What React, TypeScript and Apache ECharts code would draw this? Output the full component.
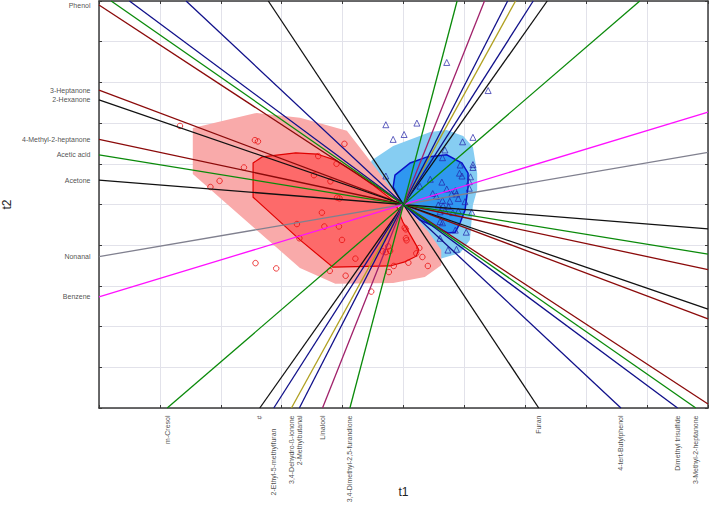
import React, { useEffect, useRef } from "react";
import * as echarts from "echarts";

// Variables whose loading line ends on the left border (x = -5): y where they hit it
const leftNames = ["Phenol", "3-Heptanone", "2-Hexanone", "4-Methyl-2-heptanone", "Acetic acid", "Acetone", "Nonanal", "Benzene"];
const leftY = [4.9, 2.81, 2.57, 1.6, 1.22, 0.6, -1.28, -2.27];

// Variables whose loading line ends on the bottom border (y = -5): x where they hit it
const bottomNames = [
  "m-Cresol", "#", "2-Ethyl-5-methylfuran", "3,4-Dehydro-ß-ionone", "2-Methylbutanal", "Linalool",
  "3,4-Dimethyl-2,5-furandione", "Furan", "4-tert-Butylphenol", "Dimethyl trisulfide", "3-Methyl-2-heptanone",
];
const bottomX = [-3.88, -2.36, -2.13, -1.84, -1.71, -1.33, -0.88, 2.22, 3.57, 4.5, 4.8];

// Scores, group 1 (red circles)
const redX = [-3.67, -2.44, -2.39, -0.97, -1.4, -1.1, -2.62, -1.47, -1.2, -3.02, -3.17, -1.09, -1.05, -1.34, -1.75, -1.3, -1.06, -1.71, -1.01, 0.02, 0.04, 0.04, 0.05, 0.26, 0.21, -0.25, -0.22, -0.29, -0.34, -0.79, 0.31, -2.43, -2.09, -1.21, -0.16, 0.08, 0.4, -0.95, -0.24, -0.53];
const redY = [1.93, 1.58, 1.55, 1.49, 1.19, 1.0, 0.91, 0.72, 0.57, 0.58, 0.43, 0.17, 0.15, -0.2, -0.48, -0.54, -0.54, -0.83, -0.87, -0.57, -0.61, -0.83, -0.88, -1.07, -1.2, -1.03, -1.14, -1.17, -1.15, -1.33, -1.29, -1.44, -1.57, -1.63, -1.51, -1.43, -1.51, -1.75, -1.66, -2.14];

// Scores, group 2 (blue triangles)
const blueX = [0.71, 1.39, -0.29, 0.22, -0.17, 0.01, 0.97, 1.14, 0.68, 0.64, 0.93, 1.14, 1.14, 0.92, 0.96, 1.1, -0.29, 0.27, 0.44, 0.63, 1.08, 1.08, 0.71, 0.85, 0.87, 0.79, 0.48, 0.54, 0.64, 0.76, 0.9, 1.01, 0.57, 0.65, 0.74, 0.6, 0.68, 0.81, 0.9, 1.12, 0.64, 0.6, 0.85, 1.03, 0.6, 0.73, 0.87];
const blueY = [3.49, 2.8, 1.96, 2.0, 1.6, 1.72, 1.54, 1.65, 1.34, 1.15, 0.97, 0.98, 0.91, 0.77, 0.7, 0.68, 0.7, 0.45, 0.62, 0.55, 0.56, 0.4, 0.38, 0.34, 0.26, 0.26, 0.27, 0.2, 0.1, 0.08, 0.15, 0.07, -0.01, -0.03, -0.05, -0.18, -0.15, -0.2, -0.16, -0.19, -0.45, -0.42, -0.63, -0.68, -0.83, -1.12, -1.1];

// Group regions (outer and inner)
const redOuter = [[-3.46, 1.88], [-2.41, 2.25], [-1.7, 2.13], [-0.93, 1.81], [-0.52, 1.02], [-0.06, 0.11], [0.14, -0.23], [0.4, -0.65], [0.62, -1.12], [0.62, -1.49], [0.35, -1.78], [-0.17, -1.93], [-1.12, -1.95], [-1.7, -1.56], [-3.46, 0.75]];
const redInner = [[-2.47, 1.02], [-2.32, 1.17], [-1.77, 1.27], [-1.42, 1.24], [-1.12, 1.09], [-0.8, 0.8], [-0.52, 0.5], [-0.14, 0.06], [-0.01, -0.43], [0.14, -0.82], [0.25, -1.11], [0.21, -1.27], [0.02, -1.41], [-0.22, -1.51], [-1.16, -1.54], [-1.7, -0.87], [-2.47, 0.18]];
const blueOuter = [[-0.52, 1.09], [-0.17, 1.44], [0.44, 1.78], [0.71, 1.83], [0.98, 1.68], [1.14, 1.41], [1.21, 0.77], [1.21, 0.36], [1.14, -0.01], [1.09, -0.87], [0.93, -1.19], [0.55, -1.36], [0.19, -1.12], [-0.3, -0.14], [-0.63, 0.72]];
const blueInner = [[-0.14, 0.72], [0.11, 1.02], [0.39, 1.17], [0.71, 1.22], [0.96, 1.02], [1.06, 0.77], [1.06, 0.43], [1.01, -0.14], [0.93, -0.45], [0.85, -0.68], [0.73, -0.7], [0.27, -0.38], [-0.01, -0.01], [-0.17, 0.43]];

const AX_MIN = -5;
const AX_MAX = 5;

// styles
const NAVY = "#10108a";
const DRED = "#8b0a0a";
const GREEN = "#0a8a0a";
const BLACK = "#111111";
const leftColors = [DRED, DRED, BLACK, DRED, GREEN, BLACK, "#80808f", "#ff10ff"];
const bottomColors = [GREEN, BLACK, NAVY, "#b0a020", NAVY, "#a0206a", GREEN, BLACK, NAVY, NAVY, GREEN];
const LABEL_FONT = "'Liberation Sans', Arial, sans-serif";

function polygonSeries(points: number[][], fill: string, stroke: string | null, lw: number) {
  return {
    type: "custom",
    silent: true,
    data: [[0, 0]],
    renderItem: (_params: any, api: any) => {
      const pts = points.map((p) => api.coord(p));
      return {
        type: "polygon",
        shape: { points: pts },
        style: { fill, stroke: stroke || "none", lineWidth: lw },
      };
    },
  };
}

export default function App() {
  const ref = useRef<HTMLDivElement>(null);
  useEffect(() => {
    if (!ref.current) return;
    const chart = echarts.init(ref.current, null, { renderer: "svg" });

    const axisCommon = {
      type: "value",
      min: AX_MIN,
      max: AX_MAX,
      interval: 1,
      axisLabel: { show: false },
      axisLine: { show: true, onZero: false, lineStyle: { color: "#3a3a3a", width: 1.5 } },
      axisTick: { show: true, inside: true, length: 3, lineStyle: { color: "#3a3a3a" } },
    };

    const lineSeries: any[] = [];
    leftNames.forEach((n, i) => {
      lineSeries.push({
        type: "line",
        name: n,
        silent: true,
        symbol: "none",
        data: [[AX_MIN, leftY[i]], [-AX_MIN, -leftY[i]]],
        lineStyle: { color: leftColors[i], width: 1.3 },
      });
    });
    bottomNames.forEach((n, i) => {
      lineSeries.push({
        type: "line",
        name: n,
        silent: true,
        symbol: "none",
        data: [[bottomX[i], AX_MIN], [-bottomX[i], -AX_MIN]],
        lineStyle: { color: bottomColors[i], width: 1.3 },
      });
    });

    const leftLabelData = leftNames.map((n, i) => ({ value: [AX_MIN, leftY[i]], name: n }));
    const bottomLabelData = bottomNames.map((n, i) => ({
      value: [bottomX[i], AX_MIN],
      name: n,
      label: { distance: n === "2-Ethyl-5-methylfuran" ? 20 : 7 },
    }));

    chart.setOption({
      animation: false,
      backgroundColor: "#ffffff",
      grid: { left: 99, top: 1, width: 609, height: 407, show: false, containLabel: false, outerBoundsMode: "none" },
      xAxis: [
        {
          ...axisCommon,
          position: "bottom",
          name: "t1",
          nameLocation: "middle",
          nameGap: 78,
          nameTextStyle: { fontSize: 12, color: "#222", fontFamily: "'Liberation Sans', Arial, sans-serif" },
          splitLine: { show: true, lineStyle: { color: "#e2e2ea", width: 1 } },
        },
        { ...axisCommon, position: "top", splitLine: { show: false } },
      ],
      yAxis: [
        {
          ...axisCommon,
          position: "left",
          name: "t2",
          nameLocation: "middle",
          nameGap: 86,
          nameTextStyle: { fontSize: 12, color: "#222", fontFamily: "'Liberation Sans', Arial, sans-serif" },
          splitLine: { show: true, lineStyle: { color: "#e2e2ea", width: 1 } },
        },
        { ...axisCommon, position: "right", splitLine: { show: false } },
      ],
      series: [
        polygonSeries(blueOuter, "#86cdf2", null, 0),
        polygonSeries(blueInner, "#2f97f0", "#0a10c8", 1.5),
        polygonSeries(redOuter, "#f9aaaa", null, 0),
        polygonSeries(redInner, "#fd6a6a", "#e00000", 1.2),
        ...lineSeries,
        {
          type: "scatter",
          name: "group1",
          silent: true,
          symbol: "circle",
          symbolSize: 5.5,
          itemStyle: { color: "rgba(0,0,0,0)", borderColor: "#e81010", borderWidth: 1 },
          data: redX.map((x, i) => [x, redY[i]]),
        },
        {
          type: "scatter",
          name: "group2",
          silent: true,
          symbol: "triangle",
          symbolSize: 6,
          itemStyle: { color: "rgba(0,0,0,0)", borderColor: "#2424a8", borderWidth: 0.9 },
          data: blueX.map((x, i) => [x, blueY[i]]),
        },
        {
          type: "scatter",
          name: "leftLabels",
          silent: true,
          clip: false,
          symbolSize: 1,
          itemStyle: { color: "rgba(0,0,0,0)" },
          label: {
            show: true,
            position: "left",
            distance: 8,
            formatter: (p: any) => p.name,
            fontSize: 7,
            color: "#1a1a1a",
            fontFamily: LABEL_FONT,
          },
          data: leftLabelData,
        },
        {
          type: "scatter",
          name: "bottomLabels",
          silent: true,
          clip: false,
          symbolSize: 1,
          itemStyle: { color: "rgba(0,0,0,0)" },
          label: {
            show: true,
            position: "bottom",
            distance: 7,
            rotate: 90,
            align: "right",
            verticalAlign: "middle",
            formatter: (p: any) => p.name,
            fontSize: 7,
            color: "#1a1a1a",
            fontFamily: LABEL_FONT,
          },
          data: bottomLabelData,
        },
      ],
    });
    return () => chart.dispose();
  }, []);

  return <div ref={ref} style={{ position: "fixed", left: 0, top: 0, width: 709, height: 524 }} />;
}
